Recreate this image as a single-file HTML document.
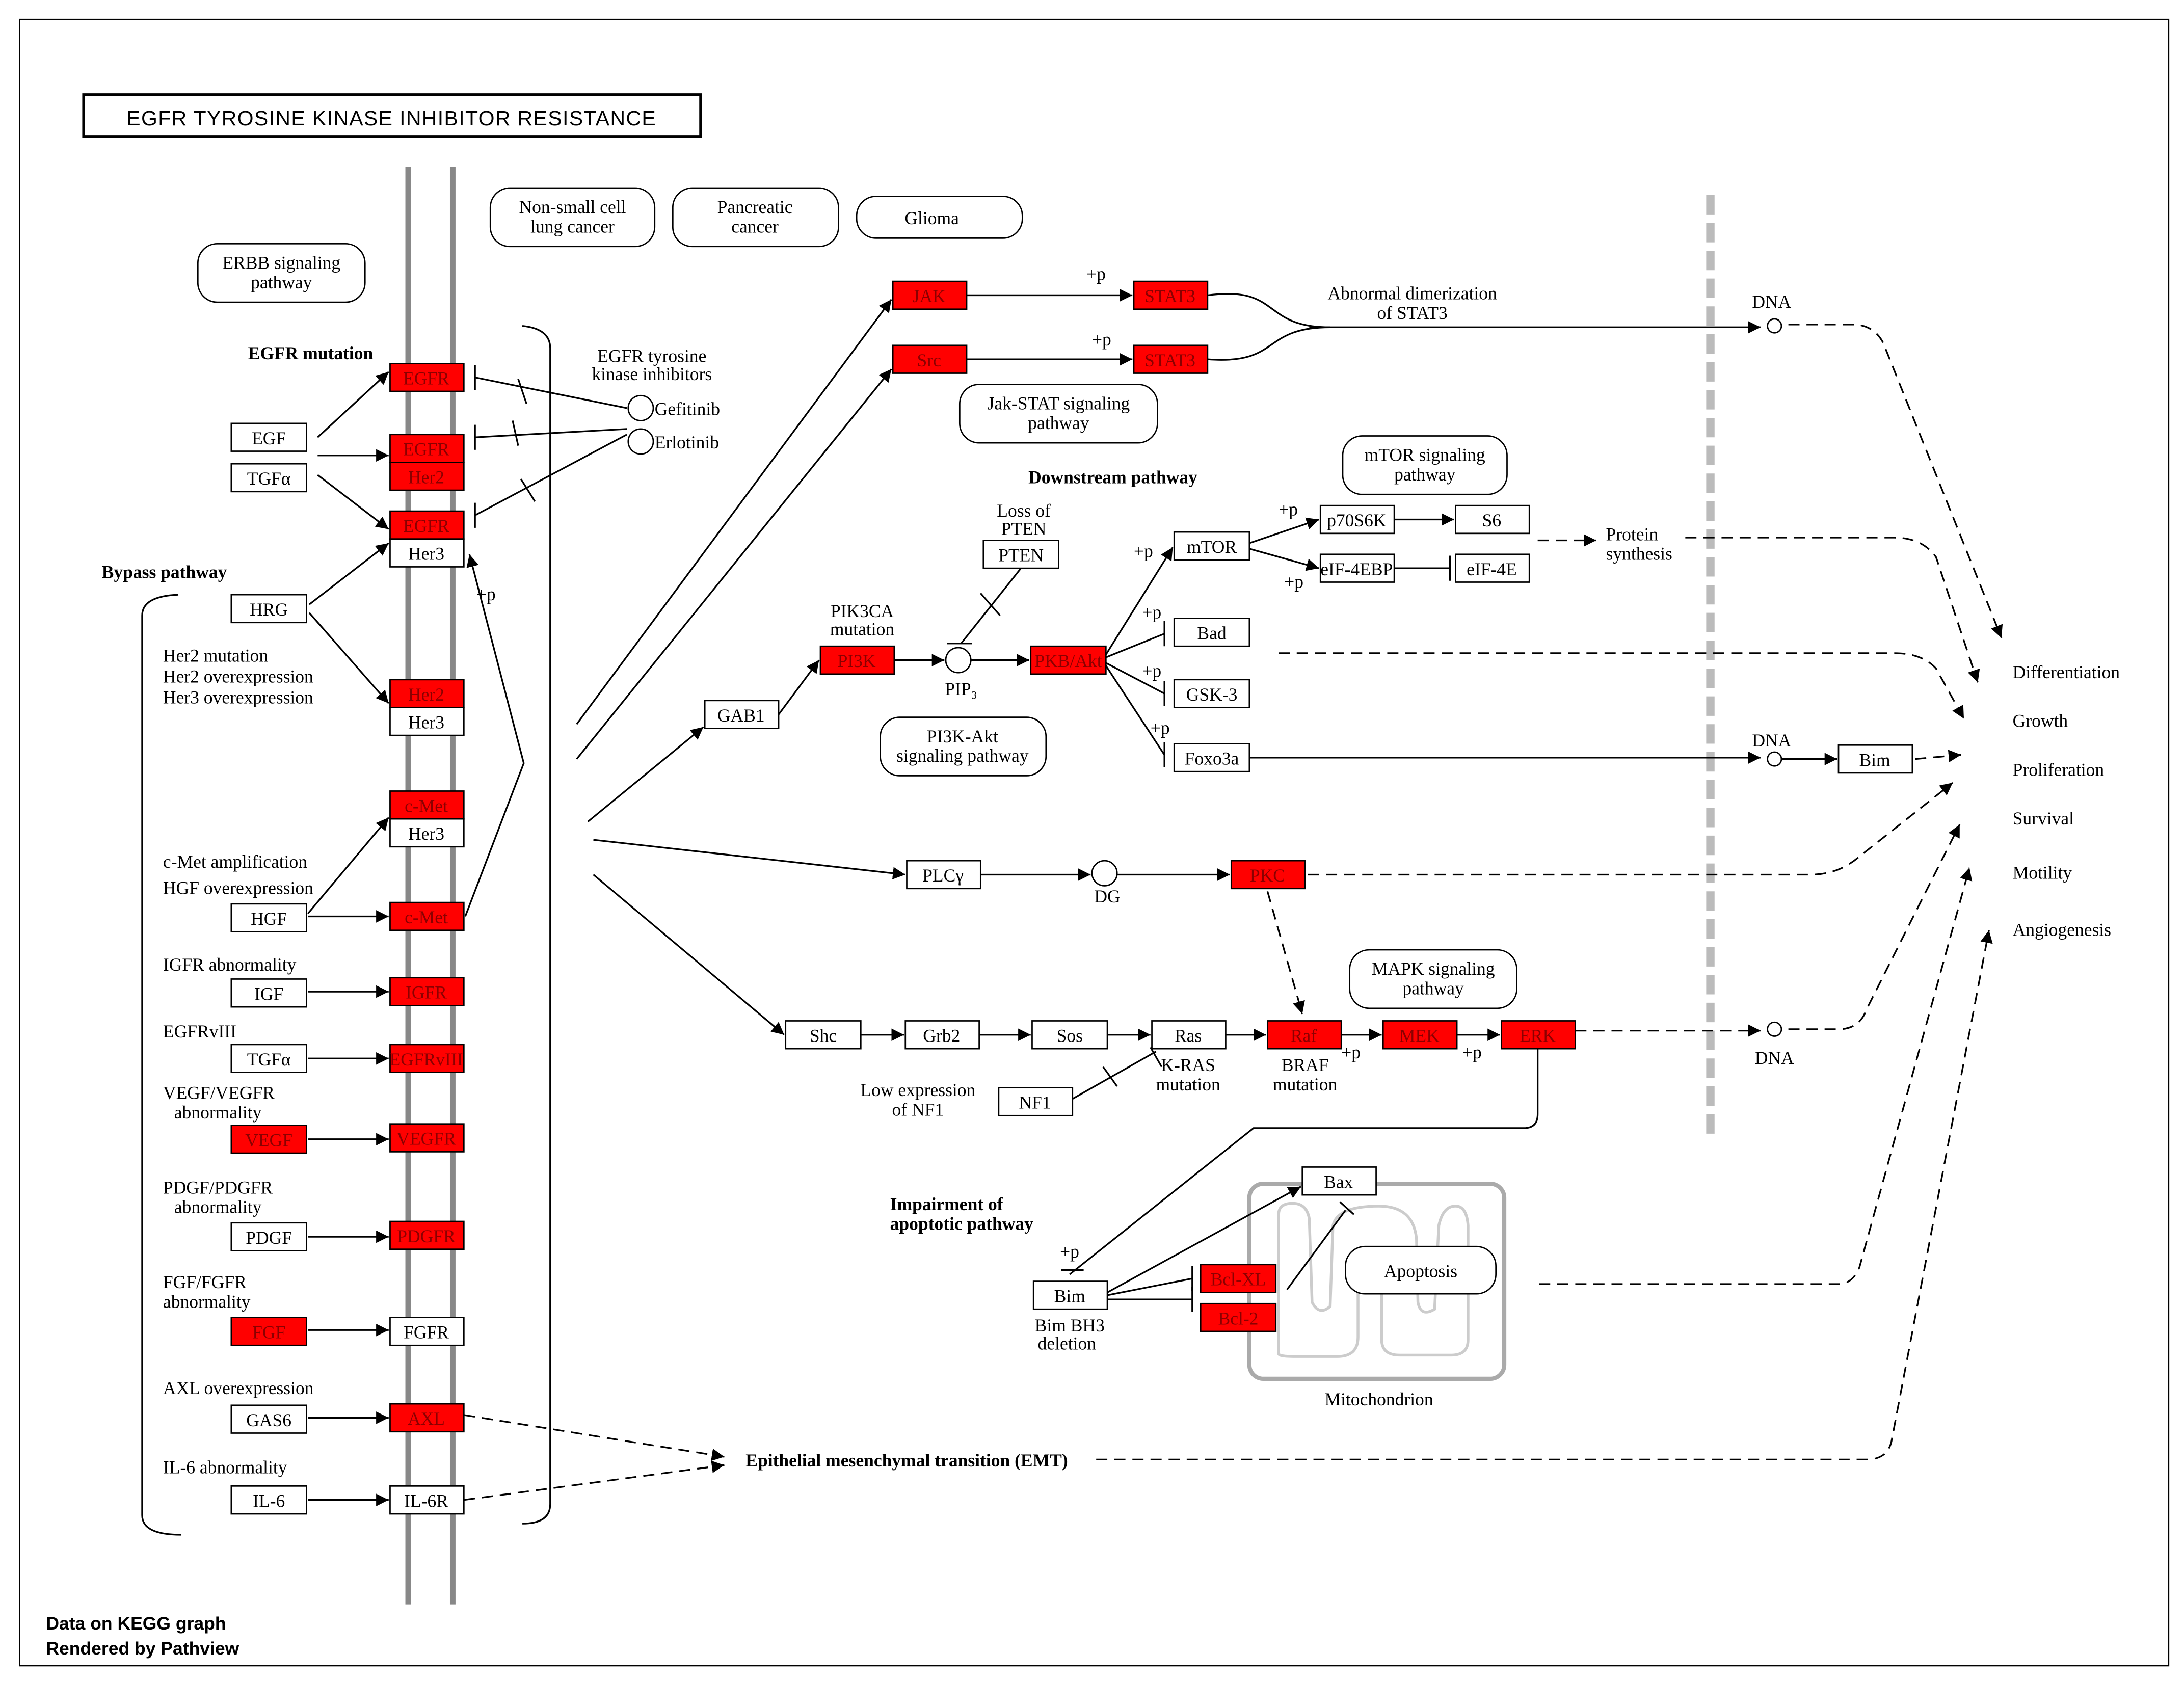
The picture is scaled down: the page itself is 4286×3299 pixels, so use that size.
<!DOCTYPE html>
<html><head><meta charset="utf-8"><style>
html,body{margin:0;padding:0;background:#fff}
svg{display:block}
text{font-family:"Liberation Serif",serif;font-size:13px;fill:#000}
.b{font-weight:bold}
.c{text-anchor:middle}
.box{fill:#fff;stroke:#000;stroke-width:1}
.red{fill:#ff0000;stroke:#000;stroke-width:1}
.rt{fill:#8b0000;font-size:13px;text-anchor:middle}
.rnd{fill:#fff;stroke:#000;stroke-width:1}
.l{stroke:#000;stroke-width:1.2;fill:none}
.d{stroke:#000;stroke-width:1.2;fill:none;stroke-dasharray:8,5}
</style></head><body>
<svg width="4286" height="3299" viewBox="0 0 1568 1207" xmlns="http://www.w3.org/2000/svg">
<defs>
<marker id="a" viewBox="0 0 10 10" refX="10" refY="5" markerWidth="9" markerHeight="9" orient="auto" markerUnits="userSpaceOnUse"><path d="M0,0L10,5L0,10z" fill="#000"/></marker>
</defs>
<rect x="0" y="0" width="1568" height="1207" fill="#fff"/>
<rect x="14" y="14" width="1543" height="1182" fill="none" stroke="#000" stroke-width="1"/>
<rect x="60" y="68" width="443" height="30" fill="#fff" stroke="#000" stroke-width="2"/>
<text x="281" y="90" class="c" style="font-size:15px;font-family:'Liberation Sans',sans-serif;letter-spacing:0.5px">EGFR TYROSINE KINASE INHIBITOR RESISTANCE</text>

<line x1="293" y1="120" x2="293" y2="1152" stroke="#888" stroke-width="4"/>
<line x1="325" y1="120" x2="325" y2="1152" stroke="#888" stroke-width="4"/>
<line x1="1228" y1="140" x2="1228" y2="815" stroke="#bbb" stroke-width="6" stroke-dasharray="14,6"/>

<path class="l" d="M375,234 Q395,236 395,250 L395,1080 Q395,1094 375,1094"/>
<path class="l" d="M128,427 Q102,428 102,442 L102,1088 Q102,1102 130,1102"/>

<rect class="rnd" x="142" y="175" width="120" height="42" rx="14"/>
<text x="202" y="193" class="c">ERBB signaling</text><text x="202" y="207" class="c">pathway</text>
<rect class="rnd" x="352" y="135" width="118" height="42" rx="14"/>
<text x="411" y="153" class="c">Non-small cell</text><text x="411" y="167" class="c">lung cancer</text>
<rect class="rnd" x="483" y="135" width="119" height="42" rx="14"/>
<text x="542" y="153" class="c">Pancreatic</text><text x="542" y="167" class="c">cancer</text>
<rect class="rnd" x="615" y="141" width="119" height="30" rx="14"/>
<text x="669" y="161" class="c">Glioma</text>
<rect class="rnd" x="689" y="276" width="142" height="42" rx="14"/>
<text x="760" y="294" class="c">Jak-STAT signaling</text><text x="760" y="308" class="c">pathway</text>
<rect class="rnd" x="964" y="313" width="118" height="42" rx="14"/>
<text x="1023" y="331" class="c">mTOR signaling</text><text x="1023" y="345" class="c">pathway</text>
<rect class="rnd" x="632" y="515" width="119" height="42" rx="14"/>
<text x="691" y="533" class="c">PI3K-Akt</text><text x="691" y="547" class="c">signaling pathway</text>
<rect class="rnd" x="969" y="682" width="120" height="42" rx="14"/>
<text x="1029" y="700" class="c">MAPK signaling</text><text x="1029" y="714" class="c">pathway</text>

<rect x="897" y="850" width="183" height="140" rx="10" fill="none" stroke="#aaa" stroke-width="3"/>
<path d="M918,972 L918,872 Q918,864 928,864 Q938,864 940,875 L942,935 Q947,945 955,938 L957,880 Q960,866 990,866 Q1015,866 1017,890 L1018,935 Q1020,946 1030,940 L1033,880 Q1036,866 1045,866 Q1053,866 1054,880 L1054,962 Q1054,973 1042,973 L1005,973 Q992,973 992,962 L992,905 Q990,895 980,896 Q975,898 975,905 L975,960 Q975,974 960,974 L930,974 Q918,974 918,972 Z" fill="none" stroke="#ccc" stroke-width="2"/>
<text x="990" y="1009" class="c">Mitochondrion</text>
<rect class="rnd" x="966" y="895" width="108" height="34" rx="14"/>
<text x="1020" y="917" class="c">Apoptosis</text>

<g>
<rect class="red" x="280" y="261" width="53" height="20"/><text class="rt" x="306" y="276">EGFR</text>
<rect class="red" x="280" y="312" width="53" height="20"/><text class="rt" x="306" y="327">EGFR</text>
<rect class="red" x="280" y="332" width="53" height="20"/><text class="rt" x="306" y="347">Her2</text>
<rect class="red" x="280" y="367" width="53" height="20"/><text class="rt" x="306" y="382">EGFR</text>
<rect class="box" x="280" y="387" width="53" height="20"/><text class="c" x="306" y="402">Her3</text>
<rect class="red" x="280" y="488" width="53" height="20"/><text class="rt" x="306" y="503">Her2</text>
<rect class="box" x="280" y="508" width="53" height="20"/><text class="c" x="306" y="523">Her3</text>
<rect class="red" x="280" y="568" width="53" height="20"/><text class="rt" x="306" y="583">c-Met</text>
<rect class="box" x="280" y="588" width="53" height="20"/><text class="c" x="306" y="603">Her3</text>
<rect class="red" x="280" y="648" width="53" height="20"/><text class="rt" x="306" y="663">c-Met</text>
<rect class="red" x="280" y="702" width="53" height="20"/><text class="rt" x="306" y="717">IGFR</text>
<rect class="red" x="280" y="750" width="53" height="20"/><text class="rt" x="306" y="765">EGFRvIII</text>
<rect class="red" x="280" y="807" width="53" height="20"/><text class="rt" x="306" y="822">VEGFR</text>
<rect class="red" x="280" y="877" width="53" height="20"/><text class="rt" x="306" y="892">PDGFR</text>
<rect class="box" x="280" y="946" width="53" height="20"/><text class="c" x="306" y="961">FGFR</text>
<rect class="red" x="280" y="1008" width="53" height="20"/><text class="rt" x="306" y="1023">AXL</text>
<rect class="box" x="280" y="1067" width="53" height="20"/><text class="c" x="306" y="1082">IL-6R</text>
</g>
<g>
<rect class="box" x="166" y="304" width="54" height="20"/><text class="c" x="193" y="319">EGF</text>
<rect class="box" x="166" y="333" width="54" height="20"/><text class="c" x="193" y="348">TGFα</text>
<rect class="box" x="166" y="427" width="54" height="20"/><text class="c" x="193" y="442">HRG</text>
<rect class="box" x="166" y="649" width="54" height="20"/><text class="c" x="193" y="664">HGF</text>
<rect class="box" x="166" y="703" width="54" height="20"/><text class="c" x="193" y="718">IGF</text>
<rect class="box" x="166" y="750" width="54" height="20"/><text class="c" x="193" y="765">TGFα</text>
<rect class="red" x="166" y="808" width="54" height="20"/><text class="rt" x="193" y="823">VEGF</text>
<rect class="box" x="166" y="878" width="54" height="20"/><text class="c" x="193" y="893">PDGF</text>
<rect class="red" x="166" y="946" width="54" height="20"/><text class="rt" x="193" y="961">FGF</text>
<rect class="box" x="166" y="1009" width="54" height="20"/><text class="c" x="193" y="1024">GAS6</text>
<rect class="box" x="166" y="1067" width="54" height="20"/><text class="c" x="193" y="1082">IL-6</text>
</g>
<text x="178" y="258" class="b">EGFR mutation</text>
<text x="73" y="415" class="b">Bypass pathway</text>
<text x="117" y="475">Her2 mutation</text>
<text x="117" y="490">Her2 overexpression</text>
<text x="117" y="505">Her3 overexpression</text>
<text x="117" y="623">c-Met amplification</text>
<text x="117" y="642">HGF overexpression</text>
<text x="117" y="697">IGFR abnormality</text>
<text x="117" y="745">EGFRvIII</text>
<text x="117" y="789">VEGF/VEGFR</text><text x="125" y="803">abnormality</text>
<text x="117" y="857">PDGF/PDGFR</text><text x="125" y="871">abnormality</text>
<text x="117" y="925">FGF/FGFR</text><text x="117" y="939">abnormality</text>
<text x="117" y="1001">AXL overexpression</text>
<text x="117" y="1058">IL-6 abnormality</text>

<g class="l">
<line x1="228" y1="314" x2="279" y2="267" marker-end="url(#a)"/>
<line x1="228" y1="327" x2="279" y2="327" marker-end="url(#a)"/>
<line x1="228" y1="341" x2="279" y2="380" marker-end="url(#a)"/>
<line x1="222" y1="434" x2="279" y2="390" marker-end="url(#a)"/>
<line x1="222" y1="440" x2="279" y2="505" marker-end="url(#a)"/>
<line x1="221" y1="656" x2="279" y2="587" marker-end="url(#a)"/>
<line x1="221" y1="658" x2="279" y2="658" marker-end="url(#a)"/>
<line x1="221" y1="712" x2="279" y2="712" marker-end="url(#a)"/>
<line x1="221" y1="760" x2="279" y2="760" marker-end="url(#a)"/>
<line x1="221" y1="818" x2="279" y2="818" marker-end="url(#a)"/>
<line x1="221" y1="888" x2="279" y2="888" marker-end="url(#a)"/>
<line x1="221" y1="955" x2="279" y2="955" marker-end="url(#a)"/>
<line x1="221" y1="1018" x2="279" y2="1018" marker-end="url(#a)"/>
<line x1="221" y1="1077" x2="279" y2="1077" marker-end="url(#a)"/>
<path d="M334,658 L376,548 L337,398" marker-end="url(#a)"/>
</g>
<text x="342" y="431">+p</text>

<text x="468" y="260" class="c">EGFR tyrosine</text><text x="468" y="273" class="c">kinase inhibitors</text>
<circle cx="460" cy="293" r="9" fill="#fff" stroke="#000"/><text x="470" y="298">Gefitinib</text>
<circle cx="460" cy="317" r="9" fill="#fff" stroke="#000"/><text x="470" y="322">Erlotinib</text>
<g class="l">
<line x1="450" y1="293" x2="341" y2="271"/><line x1="341" y1="262" x2="341" y2="280"/>
<line x1="450" y1="308" x2="341" y2="314"/><line x1="341" y1="305" x2="341" y2="323"/>
<line x1="450" y1="312" x2="341" y2="370"/><line x1="341" y1="361" x2="341" y2="379"/>
<line x1="372" y1="272" x2="378" y2="290"/>
<line x1="368" y1="302" x2="372" y2="320"/>
<line x1="374" y1="344" x2="384" y2="360"/>
</g>

<g class="l">
<line x1="414" y1="520" x2="640" y2="215" marker-end="url(#a)"/>
<line x1="414" y1="545" x2="640" y2="265" marker-end="url(#a)"/>
<line x1="422" y1="590" x2="505" y2="522" marker-end="url(#a)"/>
<line x1="426" y1="603" x2="650" y2="628" marker-end="url(#a)"/>
<line x1="426" y1="628" x2="563" y2="743" marker-end="url(#a)"/>
<line x1="559" y1="513" x2="588" y2="474" marker-end="url(#a)"/>
</g>

<rect class="red" x="641" y="202" width="53" height="20"/><text class="rt" x="667" y="217">JAK</text>
<rect class="red" x="814" y="202" width="53" height="20"/><text class="rt" x="840" y="217">STAT3</text>
<rect class="red" x="641" y="248" width="53" height="20"/><text class="rt" x="667" y="263">Src</text>
<rect class="red" x="814" y="248" width="53" height="20"/><text class="rt" x="840" y="263">STAT3</text>
<g class="l">
<line x1="694" y1="212" x2="813" y2="212" marker-end="url(#a)"/>
<line x1="694" y1="258" x2="813" y2="258" marker-end="url(#a)"/>
<path d="M867,212 C920,205 905,235 955,235"/>
<path d="M867,258 C920,262 905,235 955,235"/>
<line x1="940" y1="235" x2="1264" y2="235" marker-end="url(#a)"/>
</g>
<text x="780" y="201">+p</text><text x="784" y="248">+p</text>
<text x="1014" y="215" class="c">Abnormal dimerization</text><text x="1014" y="229" class="c">of STAT3</text>
<circle cx="1274" cy="234" r="5" fill="#fff" stroke="#000"/><text x="1272" y="221" class="c">DNA</text>

<text x="799" y="347" class="b c">Downstream pathway</text>

<text x="735" y="371" class="c">Loss of</text><text x="735" y="384" class="c">PTEN</text>
<rect class="box" x="706" y="388" width="54" height="20"/><text class="c" x="733" y="403">PTEN</text>
<text x="619" y="443" class="c">PIK3CA</text><text x="619" y="456" class="c">mutation</text>
<rect class="red" x="589" y="464" width="53" height="20"/><text class="rt" x="615" y="479">PI3K</text>
<circle cx="688" cy="474" r="9" fill="#fff" stroke="#000"/><text x="690" y="499" class="c">PIP₃</text>
<rect class="red" x="740" y="464" width="54" height="20"/><text class="rt" x="767" y="479">PKB/Akt</text>
<g class="l">
<line x1="642" y1="474" x2="678" y2="474" marker-end="url(#a)"/>
<line x1="697" y1="474" x2="739" y2="474" marker-end="url(#a)"/>
<line x1="733" y1="408" x2="690" y2="462"/><line x1="680" y1="462" x2="698" y2="462"/>
<line x1="704" y1="426" x2="718" y2="442"/>
<line x1="794" y1="470" x2="842" y2="393" marker-end="url(#a)"/>
<line x1="794" y1="472" x2="836" y2="455"/><line x1="836" y1="446" x2="836" y2="464"/>
<line x1="794" y1="476" x2="836" y2="498"/><line x1="836" y1="489" x2="836" y2="507"/>
<line x1="794" y1="478" x2="836" y2="542"/><line x1="836" y1="533" x2="836" y2="551"/>
</g>
<text x="814" y="400">+p</text><text x="820" y="444">+p</text><text x="820" y="486">+p</text><text x="826" y="527">+p</text>

<rect class="box" x="843" y="382" width="54" height="20"/><text class="c" x="870" y="397">mTOR</text>
<rect class="box" x="948" y="363" width="53" height="20"/><text class="c" x="974" y="378">p70S6K</text>
<rect class="box" x="1045" y="363" width="53" height="20"/><text class="c" x="1071" y="378">S6</text>
<rect class="box" x="948" y="398" width="53" height="20"/><text class="c" x="974" y="413">eIF-4EBP</text>
<rect class="box" x="1045" y="398" width="53" height="20"/><text class="c" x="1071" y="413">eIF-4E</text>
<g class="l">
<line x1="897" y1="390" x2="947" y2="373" marker-end="url(#a)"/>
<line x1="897" y1="394" x2="947" y2="408" marker-end="url(#a)"/>
<line x1="1001" y1="373" x2="1044" y2="373" marker-end="url(#a)"/>
<line x1="1001" y1="408" x2="1041" y2="408"/><line x1="1041" y1="399" x2="1041" y2="417"/>
</g>
<text x="918" y="370">+p</text><text x="922" y="422">+p</text>
<path class="d" d="M1104,388 L1146,388" marker-end="url(#a)"/>
<text x="1153" y="388">Protein</text><text x="1153" y="402">synthesis</text>

<rect class="box" x="843" y="444" width="54" height="20"/><text class="c" x="870" y="459">Bad</text>
<rect class="box" x="843" y="488" width="54" height="20"/><text class="c" x="870" y="503">GSK-3</text>
<rect class="box" x="843" y="534" width="54" height="20"/><text class="c" x="870" y="549">Foxo3a</text>
<line class="l" x1="897" y1="544" x2="1264" y2="544" marker-end="url(#a)"/>
<circle cx="1274" cy="545" r="5" fill="#fff" stroke="#000"/><text x="1272" y="536" class="c">DNA</text>
<line class="l" x1="1279" y1="545" x2="1319" y2="545" marker-end="url(#a)"/>
<rect class="box" x="1320" y="535" width="53" height="20"/><text class="c" x="1346" y="550">Bim</text>

<rect class="box" x="506" y="503" width="53" height="20"/><text class="c" x="532" y="518">GAB1</text>

<rect class="box" x="651" y="618" width="53" height="20"/><text class="c" x="677" y="633">PLCγ</text>
<circle cx="793" cy="627" r="9" fill="#fff" stroke="#000"/><text x="795" y="648" class="c">DG</text>
<rect class="red" x="884" y="618" width="53" height="20"/><text class="rt" x="910" y="633">PKC</text>
<g class="l">
<line x1="704" y1="628" x2="783" y2="628" marker-end="url(#a)"/>
<line x1="802" y1="628" x2="883" y2="628" marker-end="url(#a)"/>
</g>
<path class="d" d="M910,640 L935,728" marker-end="url(#a)"/>

<rect class="box" x="564" y="733" width="54" height="20"/><text class="c" x="591" y="748">Shc</text>
<rect class="box" x="650" y="733" width="53" height="20"/><text class="c" x="676" y="748">Grb2</text>
<rect class="box" x="741" y="733" width="54" height="20"/><text class="c" x="768" y="748">Sos</text>
<rect class="box" x="827" y="733" width="53" height="20"/><text class="c" x="853" y="748">Ras</text>
<rect class="red" x="910" y="733" width="53" height="20"/><text class="rt" x="936" y="748">Raf</text>
<rect class="red" x="993" y="733" width="53" height="20"/><text class="rt" x="1019" y="748">MEK</text>
<rect class="red" x="1078" y="733" width="53" height="20"/><text class="rt" x="1104" y="748">ERK</text>
<g class="l">
<line x1="618" y1="743" x2="649" y2="743" marker-end="url(#a)"/>
<line x1="703" y1="743" x2="740" y2="743" marker-end="url(#a)"/>
<line x1="795" y1="743" x2="826" y2="743" marker-end="url(#a)"/>
<line x1="880" y1="743" x2="909" y2="743" marker-end="url(#a)"/>
<line x1="963" y1="743" x2="992" y2="743" marker-end="url(#a)"/>
<line x1="1046" y1="743" x2="1077" y2="743" marker-end="url(#a)"/>
<line x1="770" y1="789" x2="830" y2="755"/><line x1="826" y1="752" x2="834" y2="766"/>
<line x1="792" y1="766" x2="802" y2="780"/>
<path d="M1104,753 L1104,800 Q1104,810 1094,810 L900,810 L768,915"/>
</g>
<text x="963" y="760">+p</text><text x="1050" y="760">+p</text>
<path class="d" d="M1131,740 L1264,740" marker-end="url(#a)"/>
<circle cx="1274" cy="739" r="5" fill="#fff" stroke="#000"/><text x="1274" y="764" class="c">DNA</text>
<text x="853" y="769" class="c">K-RAS</text><text x="853" y="783" class="c">mutation</text>
<text x="937" y="769" class="c">BRAF</text><text x="937" y="783" class="c">mutation</text>
<rect class="box" x="717" y="781" width="53" height="20"/><text class="c" x="743" y="796">NF1</text>
<text x="659" y="787" class="c">Low expression</text><text x="659" y="801" class="c">of NF1</text>

<text x="639" y="869" class="b">Impairment of</text><text x="639" y="883" class="b">apoptotic pathway</text>
<rect class="box" x="935" y="838" width="53" height="20"/><text class="c" x="961" y="853">Bax</text>
<rect class="red" x="862" y="908" width="54" height="20"/><text class="rt" x="889" y="923">Bcl-XL</text>
<rect class="red" x="862" y="936" width="54" height="20"/><text class="rt" x="889" y="951">Bcl-2</text>
<rect class="box" x="742" y="920" width="53" height="20"/><text class="c" x="768" y="935">Bim</text>
<text x="768" y="956" class="c">Bim BH3</text><text x="766" y="969" class="c">deletion</text>
<text x="761" y="903">+p</text>
<line class="l" x1="762" y1="912" x2="778" y2="912"/>
<g class="l">
<line x1="795" y1="928" x2="934" y2="852" marker-end="url(#a)"/>
<line x1="795" y1="930" x2="856" y2="918"/><line x1="856" y1="909" x2="856" y2="927"/>
<line x1="795" y1="933" x2="856" y2="933"/><line x1="856" y1="924" x2="856" y2="942"/>
<line x1="924" y1="926" x2="966" y2="869"/><line x1="962" y1="863" x2="972" y2="872"/>
</g>

<path class="d" d="M333,1016 L520,1046" marker-end="url(#a)"/>
<path class="d" d="M333,1077 L520,1052" marker-end="url(#a)"/>
<text x="651" y="1053" class="b c">Epithelial mesenchymal transition (EMT)</text>

<g class="d">
<path d="M1284,233 L1330,233 Q1345,233 1352,246 L1437,458" marker-end="url(#a)"/>
<path d="M1210,386 L1360,386 Q1380,386 1390,400 L1420,490" marker-end="url(#a)"/>
<path d="M918,469 L1360,469 Q1380,469 1390,480 L1410,516" marker-end="url(#a)"/>
<path d="M1375,545 L1408,542" marker-end="url(#a)"/>
<path d="M939,628 L1300,628 Q1320,628 1335,615 L1402,562" marker-end="url(#a)"/>
<path d="M1284,739 L1320,739 Q1335,739 1340,725 L1407,592" marker-end="url(#a)"/>
<path d="M1105,922 L1320,922 Q1330,922 1335,910 L1414,623" marker-end="url(#a)"/>
<path d="M787,1048 L1340,1048 Q1355,1048 1358,1035 L1428,668" marker-end="url(#a)"/>
</g>
<text x="1445" y="487">Differentiation</text>
<text x="1445" y="522">Growth</text>
<text x="1445" y="557">Proliferation</text>
<text x="1445" y="592">Survival</text>
<text x="1445" y="631">Motility</text>
<text x="1445" y="672">Angiogenesis</text>

<text x="33" y="1170" style="font-family:'Liberation Sans',sans-serif;font-size:13px;font-weight:bold">Data on KEGG graph</text>
<text x="33" y="1188" style="font-family:'Liberation Sans',sans-serif;font-size:13px;font-weight:bold">Rendered by Pathview</text>
</svg>
</body></html>
